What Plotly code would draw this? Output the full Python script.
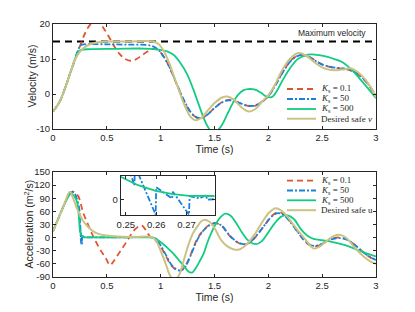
import plotly.graph_objects as go

# ---------------- data ----------------
series_names = ["<i>K</i><sub>s</sub> = 0.1", "<i>K</i><sub>s</sub> = 50", "<i>K</i><sub>s</sub> = 500"]
desired_v_name = "Desired safe <i>v</i>"
desired_u_name = "Desired safe u"
v_max = 15

# velocity (top)
t_v_des = [0, 0.06, 0.11, 0.16, 0.2, 0.25, 0.31, 0.4, 0.5, 0.7, 0.93, 0.98, 1.03, 1.08, 1.13, 1.18, 1.23, 1.28, 1.32, 1.37,
           1.43, 1.5, 1.57, 1.62, 1.68, 1.75, 1.82, 1.88, 1.94, 2.0, 2.06, 2.12, 2.2, 2.28, 2.35, 2.43, 2.5, 2.57, 2.64, 2.71,
           2.77, 2.83, 2.9, 2.96, 3.0]
v_des = [-5, -2.3, 1.5, 6.0, 9.5, 12.1, 13.7, 14.7, 15, 15, 15, 14.3, 12.2, 8.8, 4.5, 0.2, -3.8, -6.6, -7.5, -7.0,
         -5.0, -2.6, -1.0, -0.7, -1.6, -3.8, -5.0, -4.3, -2.2, -0.3, 2.6, 6.3, 10.0, 11.7, 11.0, 9.0, 7.6, 6.9, 6.8, 7.1,
         7.3, 6.3, 4.2, 1.5, -1.0]

t_v_01 = [0, 0.06, 0.11, 0.16, 0.2, 0.25, 0.3, 0.35, 0.39, 0.43, 0.47, 0.52, 0.57, 0.62, 0.67, 0.72, 0.77, 0.82, 0.87, 0.92,
          0.97, 1.02, 1.07, 1.12, 1.17, 1.22, 1.27, 1.32, 1.36, 1.42, 1.5, 1.57, 1.63, 1.7, 1.78, 1.86, 1.93, 2.0, 2.07, 2.14,
          2.22, 2.3, 2.37, 2.45, 2.52, 2.6, 2.7, 2.78, 2.85, 2.92, 3.0]
v_01 = [-5, -2.3, 1.5, 6.0, 9.6, 13.6, 17.5, 20.0, 20.7, 20.2, 18.8, 16.3, 13.6, 11.4, 10.0, 9.5, 9.9, 10.9, 12.0, 12.8,
        12.7, 11.0, 8.4, 4.9, 1.2, -2.2, -5.0, -6.5, -6.9, -6.2, -4.0, -2.3, -1.7, -2.2, -3.2, -3.5, -2.5, -0.6, 2.8, 6.6,
        9.9, 11.2, 10.8, 9.3, 8.2, 7.5, 7.2, 6.5, 5.2, 3.0, -0.7]

t_v_50 = [0, 0.06, 0.11, 0.16, 0.2, 0.23, 0.26, 0.3, 0.5, 0.7, 0.87, 0.93, 0.98, 1.03, 1.08, 1.13, 1.18, 1.23, 1.28, 1.33,
          1.37, 1.43, 1.5, 1.57, 1.63, 1.7, 1.78, 1.86, 1.93, 2.0, 2.07, 2.14, 2.22, 2.3, 2.37, 2.45, 2.52, 2.6, 2.7, 2.78,
          2.85, 2.92, 3.0]
v_50 = [-5, -2.3, 1.5, 6.0, 9.5, 12.3, 14.0, 14.2, 14.2, 14.1, 14.0, 13.6, 12.6, 10.6, 7.8, 4.3, 0.7, -2.6, -5.2, -6.6,
        -6.9, -6.0, -4.0, -2.4, -1.8, -2.2, -3.1, -3.4, -2.4, -0.6, 2.7, 6.5, 9.8, 11.1, 10.7, 9.2, 8.2, 7.6, 7.3, 6.6,
        5.3, 3.1, -0.6]

t_v_500 = [0, 0.06, 0.11, 0.16, 0.2, 0.23, 0.26, 0.35, 0.6, 0.8, 0.9, 1.0, 1.06, 1.12, 1.18, 1.245, 1.3, 1.37, 1.42, 1.47,
           1.52, 1.57, 1.62, 1.67, 1.72, 1.77, 1.81, 1.87, 1.93, 1.98, 2.03, 2.08, 2.13, 2.2, 2.27, 2.34, 2.4, 2.47, 2.55, 2.62,
           2.68, 2.76, 2.84, 2.92, 3.0]
v_500 = [-5, -2.3, 1.5, 6.0, 9.5, 11.9, 12.6, 12.8, 12.9, 13.0, 12.9, 12.6, 12.2, 11.2, 9.0, 5.7, 1.6, -4.4, -8.3, -10.6,
         -10.6, -8.8, -5.7, -2.6, -0.2, 1.1, 1.4, 1.3, 0.4, -0.7, -0.9, 0.9, 3.8, 7.3, 9.9, 11.0, 11.3, 11.1, 10.6, 9.9,
         9.2, 7.3, 4.7, 1.8, -1.2]

# acceleration (bottom)
t_a_des = [0, 0.05, 0.1, 0.156, 0.19, 0.22, 0.25, 0.28, 0.32, 0.37, 0.43, 0.5, 0.6, 0.75, 0.92, 0.96, 1.0, 1.05, 1.09, 1.13,
           1.17, 1.215, 1.26, 1.3, 1.34, 1.38, 1.41, 1.45, 1.5, 1.56, 1.62, 1.68, 1.73, 1.8, 1.88, 1.95, 2.01, 2.07, 2.12, 2.17,
           2.22, 2.27, 2.32, 2.37, 2.42, 2.48, 2.55, 2.61, 2.66, 2.72, 2.8, 2.88, 2.95, 3.0]
a_des = [15, 44, 73, 105, 88, 68, 52, 38, 26, 15, 8, 4.6, 2.5, 1.5, 1, -8, -30, -62, -88, -96,
         -86, -51, -15, 10, 25, 38, 41, 37, 22, -5, -20, -27, -27, -15, 10, 38, 58, 67, 62, 50,
         34, 18, 3, -12, -25, -20, -6, 4, 6.5, 0, -22, -42, -55, -60]

t_a_01 = [0, 0.05, 0.1, 0.15, 0.18, 0.2, 0.234, 0.26, 0.28, 0.32, 0.36, 0.4, 0.44, 0.49, 0.53, 0.56, 0.6, 0.65, 0.7, 0.75,
          0.8, 0.83, 0.86, 0.9, 0.94, 1.0, 1.05, 1.1, 1.15, 1.19, 1.23, 1.28, 1.34, 1.4, 1.46, 1.51, 1.57, 1.63, 1.7, 1.77,
          1.83, 1.9, 1.97, 2.03, 2.09, 2.14, 2.2, 2.27, 2.33, 2.38, 2.43, 2.5, 2.57, 2.63, 2.68, 2.74, 2.8, 2.88, 2.95, 3.0]
a_01 = [15, 44, 73, 98, 105, 103, 95, 75, 57, 33, 10, -10, -28, -47, -63, -55, -40, -22, -3, 16,
        26, 27, 18, 3, -4, -20, -43, -64, -74, -75, -64, -38, -3, 18, 30, 33, 26, 7, -9, -16,
        -11, 7, 30, 49, 58, 54, 38, 14, -6, -17, -20, -15, -4, 0, 0, -5, -16, -33, -46, -52]

t_a_50 = [0, 0.05, 0.1, 0.15, 0.18, 0.2, 0.22, 0.24, 0.2475, 0.2528, 0.2530, 0.2598, 0.2600, 0.2652, 0.2655, 0.2708, 0.2710,
          0.2743, 0.2765, 0.2767, 0.285, 0.3, 0.5, 0.7, 0.92, 0.96, 1.0, 1.05, 1.1, 1.15, 1.19, 1.23, 1.28, 1.34, 1.4, 1.46,
          1.51, 1.57, 1.63, 1.7, 1.77, 1.83, 1.9, 1.97, 2.03, 2.09, 2.14, 2.2, 2.27, 2.33, 2.38, 2.43, 2.5, 2.57, 2.63, 2.68,
          2.74, 2.8, 2.88, 2.95, 3.0]
a_50 = [15, 44, 73, 98, 105, 102, 90, 72, 58, 12.5, 30, -13.5, 11, 1, 7, -13.5, 3,
        1, 4, 0, 1, 0.8, 0.8, 0.8, 0.8, -3, -18, -40, -62, -73, -75, -66, -40, -5, 17, 29,
        33, 27, 8, -8, -15, -10, 8, 30, 48, 56, 52, 37, 14, -5, -15, -19, -14, -5, -1.5, -1.5,
        -6, -16, -33, -45, -51]

t_a_500 = [0, 0.05, 0.1, 0.14, 0.17, 0.195, 0.22, 0.235, 0.245, 0.2483, 0.254, 0.2598, 0.2655, 0.271, 0.2793, 0.3, 0.5, 0.9,
           0.93, 0.97, 1.02, 1.07, 1.12, 1.17, 1.22, 1.26, 1.29, 1.32, 1.36, 1.4, 1.43, 1.465, 1.5, 1.55, 1.6, 1.65, 1.7,
           1.76, 1.82, 1.885, 1.94, 2.0, 2.06, 2.12, 2.18, 2.24, 2.3, 2.36, 2.42, 2.5, 2.58, 2.68, 2.8, 2.9, 3.0]
a_500 = [15, 44, 73, 93, 101, 95, 84, 62, 32, 20.2, 12.8, 7.7, 4.8, 3.3, 1.5, 0.8, 0.5, 0.5,
         0, -5, -14, -25, -37, -52, -66, -78, -80, -72, -55, -36, -14, 8, 26, 45, 55, 50, 34,
         10, -8, -15, -8, 12, 33, 48, 51, 42, 20, 5, -3, -6, -9, -15, -25, -35, -43]

# ticks
x_ticks = [0, 0.5, 1, 1.5, 2, 2.5, 3]
x_ticklabels = ["0", "0.5", "1", "1.5", "2", "2.5", "3"]
v_ticks = [-10, 0, 10, 20]
v_ticklabels = ["-10", "0", "10", "20"]
a_ticks = [-90, -60, -30, 0, 30, 60, 90, 120, 150]
a_ticklabels = ["-90", "-60", "-30", "0", "30", "60", "90", "120", "150"]
inset_x_ticks = [0.25, 0.26, 0.27]
inset_x_ticklabels = ["0.25", "0.26", "0.27"]
inset_y_ticks = [0]
inset_y_ticklabels = ["0"]

# ---------------- styling ----------------
RED = "#DE5530"
BLUE = "#1A80D9"
GREEN = "#12CC82"
KHAKI = "#CBC384"
DARK = "#262626"

styles = [
    dict(color=RED, dash="6px,4px", width=1.8),
    dict(color=BLUE, dash="6px,2px,2px,2px", width=1.8),
    dict(color=GREEN, dash="solid", width=1.8),
    dict(color=KHAKI, dash="solid", width=2.0),
]

fig = go.Figure()

# top: velocity
fig.add_trace(go.Scatter(x=[x_ticks[0], x_ticks[-1]], y=[v_max, v_max], mode="lines",
                         line=dict(color="black", dash="7px,5px", width=1.8), xaxis="x", yaxis="y"))
vel = [(t_v_01, v_01), (t_v_50, v_50), (t_v_500, v_500), (t_v_des, v_des)]
for (tt, vv), st in zip(vel, styles):
    fig.add_trace(go.Scatter(x=tt, y=vv, mode="lines", line=dict(shape="spline", **st), xaxis="x", yaxis="y"))

# bottom: acceleration
acc = [(t_a_01, a_01), (t_a_50, a_50), (t_a_500, a_500), (t_a_des, a_des)]
for (tt, aa), st in zip(acc, styles):
    fig.add_trace(go.Scatter(x=tt, y=aa, mode="lines", line=dict(shape="spline", **st), xaxis="x2", yaxis="y2"))

# inset
for (tt, aa), st in zip(acc, styles):
    fig.add_trace(go.Scatter(x=tt, y=aa, mode="lines", line=dict(shape="linear", **st), xaxis="x3", yaxis="y3"))

W, H = 415, 312
ML, MR, MT, MB = 53, 39, 24, 35
PW, PH = W - ML - MR, H - MT - MB


def px(xp):
    return (xp - ML) / PW


def py(yp):
    return (H - MB - yp) / PH


axis_common = dict(showline=True, linecolor=DARK, linewidth=1, mirror="ticks", ticks="inside", ticklen=3,
                   tickcolor=DARK, showgrid=False, zeroline=False,
                   tickfont=dict(family="Liberation Sans, Arial", size=9.5, color=DARK))
title_font = dict(family="Liberation Sans, Arial", size=10.5, color=DARK)

fig.update_layout(
    width=W, height=H, margin=dict(l=ML, r=MR, t=MT, b=MB),
    paper_bgcolor="white", plot_bgcolor="white", showlegend=False,
    xaxis=dict(domain=[0, 1], range=[0, 3], tickvals=x_ticks, ticktext=x_ticklabels, anchor="y",
               title=dict(text="Time (s)", standoff=2, font=title_font), **axis_common),
    yaxis=dict(domain=[py(129), 1], range=[-10, 20], tickvals=v_ticks, ticktext=v_ticklabels, anchor="x",
               **axis_common),
    xaxis2=dict(domain=[0, 1], range=[0, 3], tickvals=x_ticks, ticktext=x_ticklabels, anchor="y2",
                title=dict(text="Time (s)", standoff=2, font=title_font), **axis_common),
    yaxis2=dict(domain=[0, py(172)], range=[-90, 150], tickvals=a_ticks, ticktext=a_ticklabels, anchor="x2",
                **axis_common),
    xaxis3=dict(domain=[px(120.7), px(214.5)], range=[0.2483, 0.2792], tickvals=inset_x_ticks,
                ticktext=inset_x_ticklabels, anchor="y3", **axis_common),
    yaxis3=dict(domain=[py(215.3), py(176)], range=[-14, 21], tickvals=inset_y_ticks, ticktext=inset_y_ticklabels,
                anchor="x3", **axis_common),
)

# y-axis titles
fig.add_annotation(x=px(31), y=py(76.5), xref="paper", yref="paper", text="Velocity (m/s)", showarrow=False,
                   textangle=-90, xanchor="center", yanchor="middle", font=title_font)
fig.add_annotation(x=px(28), y=py(224.5), xref="paper", yref="paper", text="Acceleration (m<sup>2</sup>/s)",
                   showarrow=False, textangle=-90, xanchor="center", yanchor="middle", font=title_font)

fig.add_annotation(x=2.595, y=17.4, xref="x", yref="y", text="Maximum velocity", showarrow=False,
                   font=dict(family="Liberation Sans, Arial", size=8.5, color=DARK))

# legends (drawn manually to get compact row spacing)
legend_rows_top = [89, 99, 109, 118.7]
legend_rows_bot = [180.7, 190.5, 200.3, 210.2]
names_top = series_names + [desired_v_name]
names_bot = series_names + [desired_u_name]
for rows, names in ((legend_rows_top, names_top), (legend_rows_bot, names_bot)):
    for yy, name, st in zip(rows, names, styles):
        fig.add_shape(type="line", xref="paper", yref="paper", x0=px(287), x1=px(316), y0=py(yy), y1=py(yy),
                      line=dict(color=st["color"], dash=st["dash"], width=st["width"]))
        fig.add_annotation(x=px(319), y=py(yy), xref="paper", yref="paper", text=name, showarrow=False,
                           xanchor="left", yanchor="middle",
                           font=dict(family="Liberation Serif, Times New Roman", size=9, color=DARK))

fig.write_html("out.html", config={"displayModeBar": False},
               post_script="document.body.style.margin='0';document.body.style.overflow='hidden';")
